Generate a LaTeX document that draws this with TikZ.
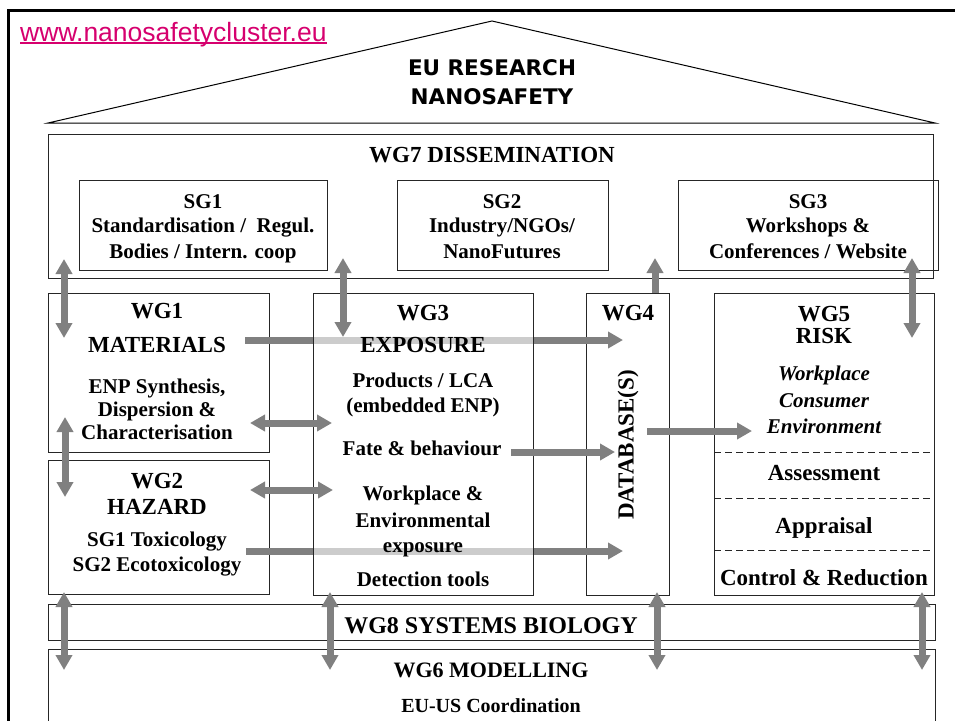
\documentclass[tikz,border=0pt]{standalone}
\usepackage{fontspec}
\setmainfont{Liberation Serif}
\newfontfamily\urlfont{Liberation Sans}
\newfontfamily\rooffont{DejaVu Sans}
\usetikzlibrary{arrows.meta}
\definecolor{linkgray}{RGB}{128,128,128}
\definecolor{urlred}{RGB}{214,0,110}
\tikzset{
  wgbox/.style 2 args={draw=black!85, line width=.8pt, minimum width=#1, minimum height=#2, inner sep=0pt},
  rooftext/.style={anchor=base, inner sep=0pt, font=\rooffont\bfseries\fontsize{21.5}{21.5}\selectfont},
  hd/.style={anchor=base, inner sep=0pt, font=\fontsize{23}{23}\selectfont\bfseries},
  sub/.style={anchor=base, inner sep=0pt, font=\fontsize{21}{21}\selectfont\bfseries},
  subit/.style={sub, font=\fontsize{21}{21}\selectfont\bfseries\itshape},
  link/.style={draw=linkgray, line width=7pt, -{Triangle[width=16pt,length=15pt]}},
  twoway/.style={link, {Triangle[width=16pt,length=15pt]}-{Triangle[width=16pt,length=15pt]}},
  sep/.style={draw=black!85, line width=.8pt, dash pattern=on 7pt off 4pt}
}
\begin{document}
\begin{tikzpicture}[x=1pt,y=-1pt]
  \useasboundingbox (0,0) rectangle (955,720);
  \clip (0,0) rectangle (955,720);
  % frame and roof
  \draw[line width=3pt] (8,730) -- (8,10) -- (960,10);
  \draw[line width=1pt] (48,123) -- (492,21) -- (935,123) -- cycle;
  \node[anchor=base west, inner sep=0pt, text=urlred, font=\urlfont\fontsize{26.5}{26.5}\selectfont] (url) at (20,41) {www.nanosafetycluster.eu};
  \draw[urlred, line width=2pt] ([yshift=-2pt]url.base west) -- ([yshift=-2pt]url.base east);
  \node[rooftext] (roof1) at (492,75) {EU RESEARCH};
  \node[rooftext] (roof2) at (492,104) {NANOSAFETY};

  % boxes
  \node[wgbox={885pt}{144pt}] (wg7) at (490.5,206) {};
  \node[wgbox={248pt}{90pt}] (sg1) at (203,225) {};
  \node[wgbox={211pt}{90pt}] (sg2) at (502.5,225) {};
  \node[wgbox={260pt}{90pt}] (sg3) at (808,225) {};
  \node[wgbox={221pt}{159pt}] (wg1) at (158.5,372.5) {};
  \node[wgbox={221pt}{134pt}] (wg2) at (158.5,527) {};
  \node[wgbox={83pt}{302pt}] (wg4) at (627.5,444) {};
  \node[wgbox={220pt}{302pt}] (wg5) at (824,444) {};
  \node[wgbox={887pt}{36pt}] (wg8) at (491.5,622) {};
  \node[wgbox={887pt}{91pt}] (wg6) at (491.5,694.5) {};
  \draw[sep] (714,452) -- (934,452);
  \draw[sep] (714,498) -- (934,498);
  \draw[sep] (714,550) -- (934,550);

  % arrow ends
  \coordinate (matout) at (245,340);
  \coordinate (matin) at (623,340);
  \coordinate (hazout) at (246,551);
  \coordinate (hazin) at (623,551);

  % long arrows run behind WG3
  \draw[link] (matout) -- (matin);
  \draw[link] (hazout) -- (hazin);
  \node[wgbox={220pt}{302pt}, fill=white, fill opacity=.6] (wg3) at (423,444) {};

  % texts
  \node[hd] (wg7t) at (492,162) {WG7 DISSEMINATION};
  \node[sub] (sg1a) at (203,208) {SG1};
  \node[sub] (sg1b) at (203,232) {Standardisation /\ \ Regul.};
  \node[sub] (sg1c) at (203,258) {Bodies / Intern. coop};
  \node[sub] (sg2a) at (502,208) {SG2};
  \node[sub] (sg2b) at (502,232) {Industry/NGOs/};
  \node[sub] (sg2c) at (502,258) {NanoFutures};
  \node[sub] (sg3a) at (808,208) {SG3};
  \node[sub] (sg3b) at (808,232) {Workshops \&};
  \node[sub] (sg3c) at (808,258) {Conferences / Website};

  \node[hd] (wg1a) at (157,318) {WG1};
  \node[hd] (wg1b) at (157,352) {MATERIALS};
  \node[sub] (wg1c) at (157,393) {ENP Synthesis,};
  \node[sub] (wg1d) at (157,416) {Dispersion \&};
  \node[sub] (wg1e) at (157,439) {Characterisation};

  \node[hd] (wg2a) at (157,488) {WG2};
  \node[hd] (wg2b) at (157,514) {HAZARD};
  \node[sub] (wg2c) at (157,546) {SG1 Toxicology};
  \node[sub] (wg2d) at (157,571) {SG2 Ecotoxicology};

  \node[hd] (wg3a) at (423,320) {WG3};
  \node[hd] (wg3b) at (423,352) {EXPOSURE};
  \node[sub] (wg3c) at (423,387) {Products / LCA};
  \node[sub] (wg3d) at (423,412) {(embedded ENP)};
  \node[sub] (wg3e) at (422,455) {Fate \& behaviour};
  \node[sub] (wg3f) at (423,500) {Workplace \&};
  \node[sub] (wg3g) at (423,527) {Environmental};
  \node[sub] (wg3h) at (423,552) {exposure};
  \node[sub] (wg3i) at (423,586) {Detection tools};

  \node[hd] (wg4a) at (628,320) {WG4};
  \node[hd, anchor=center, rotate=90] (wg4b) at (628,445) {DATABASE(S)};

  \node[hd] (wg5a) at (824,321) {WG5};
  \node[hd] (wg5b) at (824,343) {RISK};
  \node[subit] (wg5c) at (824,380) {Workplace};
  \node[subit] (wg5d) at (824,407) {Consumer};
  \node[subit] (wg5e) at (824,433) {Environment};
  \node[hd] (wg5f) at (824,480) {Assessment};
  \node[hd] (wg5g) at (824,533) {Appraisal};
  \node[hd] (wg5h) at (824,585) {Control \& Reduction};

  \node[hd, font=\fontsize{24}{24}\selectfont\bfseries] (wg8t) at (491,633) {WG8 SYSTEMS BIOLOGY};
  \node[hd, font=\fontsize{22}{22}\selectfont\bfseries] (wg6t) at (491,677) {WG6 MODELLING};
  \node[sub, font=\fontsize{20}{20}\selectfont\bfseries] (wg6u) at (491,712) {EU-US Coordination};

  % more arrow ends
  \coordinate (sg1low) at (64,259);    \coordinate (wg1high) at (64,338);
  \coordinate (sg2low) at (343,258);   \coordinate (wg3high) at (343,337);
  \coordinate (wg4top) at (655,293);   \coordinate (sg3left) at (655,258);
  \coordinate (sg3low) at (912,258);   \coordinate (wg5high) at (912,338);
  \coordinate (wg1low) at (65,417);    \coordinate (wg2high) at (65,497);
  \coordinate (matright) at (250,423); \coordinate (expleft) at (332,423);
  \coordinate (hazright) at (250,490); \coordinate (wrkleft) at (333,490);
  \coordinate (fateout) at (511,452);  \coordinate (fatein) at (615,452);
  \coordinate (dbout) at (647,431);    \coordinate (riskin) at (752,431);

  \draw[twoway] (sg1low) -- (wg1high);
  \draw[twoway] (sg2low) -- (wg3high);
  \draw[link] (wg4top) -- (sg3left);
  \draw[twoway] (sg3low) -- (wg5high);
  \draw[twoway] (wg1low) -- (wg2high);
  \draw[twoway] (matright) -- (expleft);
  \draw[twoway] (hazright) -- (wrkleft);
  \draw[link] (fateout) -- (fatein);
  \draw[link] (dbout) -- (riskin);

  % down to modelling
  \foreach \x [count=\i] in {64,330,657,922} {
    \coordinate (rowlow\i) at (\x,592);
    \coordinate (modhigh\i) at (\x,670);
    \draw[twoway] (rowlow\i) -- (modhigh\i);
  }
\end{tikzpicture}
\end{document}
